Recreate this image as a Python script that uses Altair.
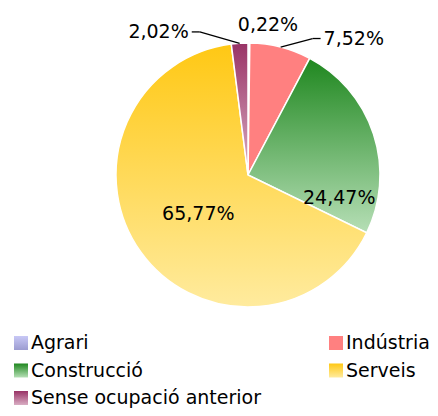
import altair as alt
import pandas as pd

# ---- data ----
categories = ["Agrari", "Indústria", "Construcció", "Serveis", "Sense ocupació anterior"]
values = [0.22, 7.52, 24.47, 65.77, 2.02]
labels = ["0,22%", "7,52%", "24,47%", "65,77%", "2,02%"]

# ---- style (vertical gradients, top -> bottom) ----
grad_top = ["#c8c8f6", "#ff8080", "#1f871f", "#ffc814", "#993366"]
grad_bottom = ["#9c9cd0", "#ff8080", "#b6dfb6", "#ffeb9e", "#d9adc3"]

# ---- label layout ----
label_radius = [151, 151, 94, 63, 151]
label_shift_deg = [7.2, 11, 32, -2.3, -15]
label_kind = ["center", "left", "center", "center", "right"]

CX, CY, R = 240, 167, 132
FONT = "DejaVu Sans"
# legend grid layout (2 columns, row-major)
LX0, LY0, COLW, ROWH = 13, 335, 315, 27.5

df = pd.DataFrame({
    "idx": list(range(len(categories))),
    "cat": categories,
    "value": values,
    "label": labels,
    "lr": label_radius,
    "shift": label_shift_deg,
    "kind": label_kind,
})


def grad(i):
    return {"gradient": "linear", "x1": 0, "y1": 0, "x2": 0, "y2": 1,
            "stops": [{"offset": 0, "color": grad_top[i]},
                      {"offset": 1, "color": grad_bottom[i]}]}


fill_cond = {
    "condition": [{"test": f"datum.idx === {i}", "value": grad(i)} for i in range(len(categories) - 1)],
    "value": grad(len(categories) - 1),
}

base = (
    alt.Chart(df)
    .transform_window(cum="sum(value)", sort=[{"field": "idx"}], frame=[None, 0])
    .transform_joinaggregate(total="sum(value)")
    .transform_calculate(
        a0="2*PI*(datum.cum - datum.value)/datum.total",
        a1="2*PI*datum.cum/datum.total",
    )
    .transform_calculate(am="(datum.a0 + datum.a1)/2")
    .transform_calculate(al="datum.am + datum.shift*PI/180")
    .transform_calculate(
        xe=f"{CX} + {R}*sin(datum.am)",
        ye=f"{CY} - {R}*cos(datum.am)",
        xl=f"{CX} + datum.lr*sin(datum.al)",
        yl=f"{CY} - datum.lr*cos(datum.al)",
        side="datum.kind === 'left' ? 1 : (datum.kind === 'right' ? -1 : 0)",
        lgx=f"{LX0} + (datum.idx % 2)*{COLW}",
        lgy=f"{LY0} + floor(datum.idx/2)*{ROWH}",
    )
    .transform_calculate(xh="datum.xl + datum.side*8", lgtx="datum.lgx + 10")
    .transform_calculate(xt="datum.xh + datum.side*3")
)

arcs = base.mark_arc(outerRadius=R, stroke="white", strokeWidth=1.5).encode(
    theta=alt.Theta("a0:Q", scale=None),
    theta2="a1:Q",
    x=alt.value(CX),
    y=alt.value(CY),
    fill=fill_cond,
)

# manual legend: gradient squares + labels
legend_sym = base.mark_square(size=196, opacity=1, strokeWidth=0).encode(
    x=alt.X("lgx:Q", scale=None, axis=None),
    y=alt.Y("lgy:Q", scale=None, axis=None),
    fill=fill_cond,
)
legend_txt = base.mark_text(align="left", baseline="middle", font=FONT, fontSize=19, color="black").encode(
    x=alt.X("lgtx:Q", scale=None, axis=None),
    y=alt.Y("lgy:Q", scale=None, axis=None),
    text="cat:N",
)

leader_ext = base.transform_filter("datum.kind !== 'center'")
rule1 = leader_ext.mark_rule(color="black", strokeWidth=1.3).encode(
    x=alt.X("xe:Q", scale=None, axis=None),
    y=alt.Y("ye:Q", scale=None, axis=None),
    x2="xl:Q",
    y2="yl:Q",
)
rule2 = leader_ext.mark_rule(color="black", strokeWidth=1.3).encode(
    x=alt.X("xl:Q", scale=None, axis=None),
    y=alt.Y("yl:Q", scale=None, axis=None),
    x2="xh:Q",
    y2="yl:Q",
)


def text_layer(kind, align):
    return base.transform_filter(f"datum.kind === '{kind}'").mark_text(
        align=align, baseline="middle", font=FONT, fontSize=19, color="black"
    ).encode(
        x=alt.X("xt:Q", scale=None, axis=None),
        y=alt.Y("yl:Q", scale=None, axis=None),
        text="label:N",
    )


chart = (
    alt.layer(arcs, legend_sym, legend_txt, rule1, rule2,
              text_layer("center", "center"), text_layer("left", "left"), text_layer("right", "right"))
    .properties(width=422, height=400, autosize=alt.AutoSizeParams(type="none"), padding=0)
    .configure_view(stroke=None)
)

chart.save("out.html", embed_options={"renderer": "svg", "actions": False})
